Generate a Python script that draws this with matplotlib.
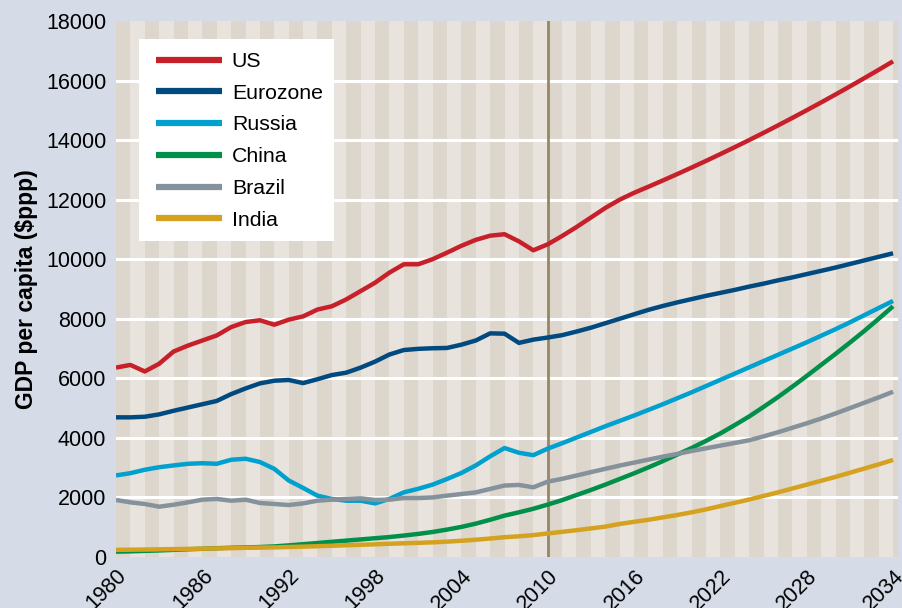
import matplotlib
matplotlib.use('Agg')
import matplotlib.pyplot as plt
from matplotlib.patches import Rectangle

plt.rcParams['font.family'] = ['Liberation Sans', 'DejaVu Sans']

years = list(range(1980, 2035))

us = [6360, 6450, 6230, 6490, 6900, 7100, 7270, 7440, 7720, 7890,
      7950, 7800, 7970, 8080, 8310, 8420, 8650, 8930, 9210, 9550,
      9830, 9830, 10000, 10220, 10450, 10650, 10790, 10840, 10600, 10300,
      10500, 10780, 11080, 11400, 11720, 12000, 12230, 12435, 12645, 12859,
      13078, 13302, 13531, 13764, 14002, 14245, 14493, 14746, 15003, 15265,
      15532, 15804, 16080, 16361, 16647]
eurozone = [4690, 4690, 4710, 4790, 4910, 5020, 5130, 5240, 5470, 5660,
            5830, 5920, 5945, 5840, 5970, 6110, 6190, 6360, 6560, 6800,
            6950, 6990, 7010, 7020, 7130, 7270, 7510, 7500, 7190, 7300,
            7370, 7450, 7570, 7700, 7850, 8000, 8150, 8300, 8430, 8550,
            8660, 8770, 8870, 8970, 9080, 9180, 9290, 9390, 9500, 9610,
            9720, 9840, 9960, 10080, 10200]
russia = [2740, 2815, 2930, 3015, 3075, 3130, 3150, 3130, 3265, 3300,
          3190, 2960, 2570, 2320, 2060, 1950, 1890, 1890, 1800, 1950,
          2170, 2290, 2430, 2620, 2820, 3075, 3380, 3660, 3500, 3420,
          3640, 3820, 4010, 4200, 4390, 4570, 4750, 4940, 5130, 5330,
          5530, 5740, 5950, 6160, 6370, 6580, 6790, 7000, 7210, 7430,
          7650, 7880, 8120, 8360, 8600]
china = [180, 190, 205, 220, 240, 260, 275, 295, 310, 320,
         335, 355, 390, 430, 470, 510, 550, 590, 630, 670,
         720, 775, 840, 920, 1010, 1120, 1250, 1390, 1500, 1620,
         1760, 1910, 2080, 2250, 2430, 2620, 2810, 3010, 3220, 3440,
         3660, 3900, 4150, 4430, 4720, 5040, 5370, 5720, 6080, 6450,
         6820, 7200, 7590, 8000, 8420]
brazil = [1915, 1835, 1780, 1690, 1755, 1835, 1925, 1950, 1890, 1925,
          1815, 1780, 1745, 1800, 1890, 1925, 1950, 1970, 1915, 1925,
          1980, 1980, 2000, 2060, 2115, 2170, 2285, 2400, 2420, 2340,
          2530, 2625, 2735, 2850, 2960, 3070, 3170, 3270, 3370, 3460,
          3560, 3650, 3740, 3830, 3920, 4050, 4190, 4340, 4490, 4650,
          4820, 5000, 5180, 5360, 5550]
india = [240, 245, 250, 258, 265, 272, 280, 288, 298, 308,
         318, 322, 335, 348, 362, 378, 395, 410, 425, 445,
         460, 475, 492, 515, 545, 580, 620, 665, 695, 735,
         790, 845, 900, 960, 1020, 1110, 1180, 1250, 1330, 1410,
         1500, 1600, 1710, 1820, 1930, 2050, 2170, 2300, 2430, 2560,
         2690, 2830, 2970, 3110, 3260]

series = [('US', us, '#c8202a'),
          ('Eurozone', eurozone, '#004a80'),
          ('Russia', russia, '#00a0cf'),
          ('China', china, '#00904a'),
          ('Brazil', brazil, '#85929b'),
          ('India', india, '#d4a21f')]

xticks = list(range(1980, 2035, 6))
yticks = list(range(0, 18001, 2000))

fig = plt.figure(figsize=(9.02, 6.08), dpi=100)
fig.patch.set_facecolor('#d5dce8')
ax = fig.add_axes([116 / 902, 51 / 608, 782 / 902, 536 / 608])
ax.set_xlim(1980, 1980 + 782 / 14.39)
ax.set_ylim(0, 18000)

# year stripes
for i, yr in enumerate(range(1980, 2035)):
    ax.axvspan(yr, yr + 1, color='#ddd6cc' if i % 2 == 0 else '#e8e4dd',
               lw=0, zorder=0)

for v in yticks[1:-1]:
    ax.axhline(v, color='white', lw=2.2, zorder=1)

ax.axvline(2010, color='#968665', lw=2, zorder=2)

for name, vals, col in series:
    ax.plot(years, vals, color=col, lw=3.2, label=name, zorder=3,
            solid_capstyle='butt')

for s in ax.spines.values():
    s.set_visible(False)
ax.tick_params(length=0)
ax.set_xticks(xticks)
ax.set_xticklabels([str(t) for t in xticks], rotation=45, ha='right',
                   va='top', rotation_mode='anchor', fontsize=15.5)
ax.tick_params(axis='x', pad=6)
ax.set_yticks(yticks)
ax.set_yticklabels([str(t) for t in yticks], fontsize=15.5)
ax.tick_params(axis='y', pad=7)
ax.set_ylabel('GDP per capita ($ppp)', fontsize=16.5, fontweight='bold',
              labelpad=6)

# legend background box
ax.add_patch(Rectangle(((139 - 116) / 782, (557 - 241) / 536),
                       195 / 782, 202 / 536, transform=ax.transAxes,
                       facecolor='white', edgecolor='none', zorder=4))
leg = ax.legend(loc='upper left', bbox_to_anchor=((156 - 116) / 782, (557 - 52) / 536),
                frameon=False, fontsize=15.3, handlelength=3.1,
                handletextpad=0.47, labelspacing=0.6, borderpad=0,
                borderaxespad=0)
leg.set_zorder(5)
for h in leg.get_lines():
    h.set_linewidth(4.5)

fig.savefig('out.png', dpi=100, facecolor=fig.get_facecolor())
